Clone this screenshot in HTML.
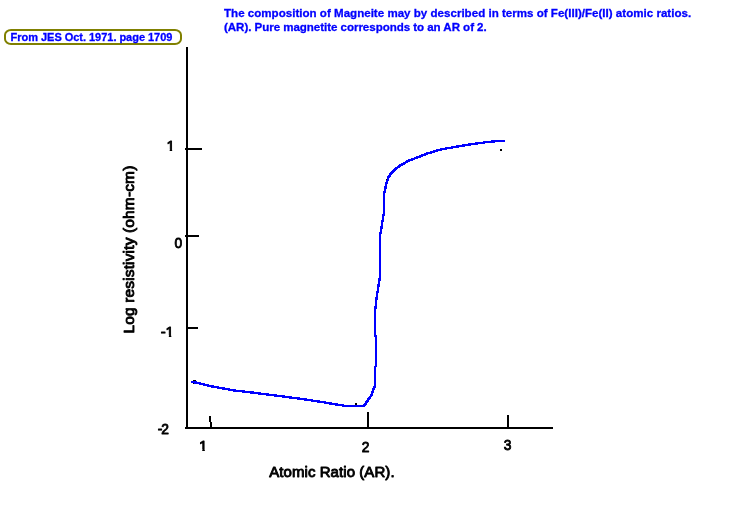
<!DOCTYPE html>
<html>
<head>
<meta charset="utf-8">
<title>Log resistivity vs Atomic Ratio</title>
<style>
html,body{margin:0;padding:0;background:#fff;}
body{width:729px;height:529px;position:relative;overflow:hidden;font-family:"Liberation Sans",sans-serif;}
.t{position:absolute;white-space:nowrap;margin:0;padding:0;line-height:1;}
.hdr{color:#0000ff;font-weight:bold;font-size:11.55px;-webkit-text-stroke:0.3px #0000ff;}
.src{position:absolute;left:4px;top:29px;width:174px;height:12px;border:2px solid #808000;border-radius:7px/6px;background:#fff;}
.src span{position:absolute;left:4.6px;top:0;color:#0000ff;font-weight:bold;font-size:11px;line-height:12px;white-space:nowrap;letter-spacing:-0.03px;-webkit-text-stroke:0.3px #0000ff;}
svg{position:absolute;left:0;top:0;}
svg text{font-family:"Liberation Sans",sans-serif;font-size:15px;fill:#000;stroke:#000;stroke-width:0.9px;stroke-linejoin:round;}
</style>
</head>
<body>
<div class="t hdr" style="left:224px;top:8px;letter-spacing:0.016px;">The composition of Magneite may by described in terms of Fe(III)/Fe(II) atomic ratios.</div>
<div class="t hdr" style="left:224px;top:22px;letter-spacing:-0.04px;">(AR). Pure magnetite corresponds to an AR of 2.</div>
<div class="src"><span>From JES Oct. 1971. page 1709</span></div>

<svg width="729" height="529" viewBox="0 0 729 529">
  <g fill="#000" shape-rendering="crispEdges">
    <rect x="186" y="47" width="2" height="382"/>
    <rect x="185" y="427" width="368" height="2"/>
    <rect x="185" y="148" width="17" height="2"/>
    <rect x="185" y="235" width="14" height="2"/>
    <rect x="187" y="327" width="11" height="2"/>
    <rect x="209" y="416" width="2" height="6"/>
    <rect x="210" y="422" width="2" height="5"/>
    <rect x="367" y="412" width="2" height="15"/>
    <rect x="507" y="415" width="2" height="12"/>
    <rect x="193" y="380" width="3" height="3"/>
    <rect x="193" y="383" width="1" height="1"/>
    <rect x="355" y="403" width="2" height="2"/>
    <rect x="500" y="149" width="2" height="2"/>
  </g>
  <defs><path id="cv" d="M192,382 L195,382.4 L210,386 L233,390.3 L252,392.5 L275.5,395.5 L300,398.7 L322,402 L336,404.4 L346,406 L363.5,406 L365,404.5 L366.6,402 L368,400 L369.5,398 L370.8,396 L372,394 L372.6,392 L373.3,390 L374,388 L375.1,386.3 L375.2,367 L376,366 L376,337 L375.2,335 L375.2,310 L376,303 L376.8,296 L378,289 L379,282 L380,277 L380,235 L380.6,233 L382.5,221 L384,212 L384.2,193.6 L386.3,184 L388.2,177.6 L392,172.3 L399.2,166 L408.8,160.7 L428,153.3 L441.5,149.3 L466.4,145 L487.5,142 L499,141 L504,141"/></defs>
  <g fill="none" stroke="#0000ff" stroke-width="1.25" stroke-linejoin="round" stroke-linecap="square" shape-rendering="crispEdges">
    <use href="#cv" x="-0.5" y="-0.5"/>
    <use href="#cv" x="0.5" y="-0.5"/>
    <use href="#cv" x="-0.5" y="0.5"/>
    <use href="#cv" x="0.5" y="0.5"/>
  </g>
  <rect x="386" y="179" width="1" height="1" fill="#000" shape-rendering="crispEdges"/>
  <clipPath id="one" clipPathUnits="userSpaceOnUse"><path d="M-1,-13 H9 V-2 H5.6 V0 H3.3 V-2 H-1 Z"/></clipPath>
  <clipPath id="mone" clipPathUnits="userSpaceOnUse"><path d="M-1,-13 H13.8 V-2 H10.4 V0 H8.1 V-2 H-1 Z"/></clipPath>
  <g transform="translate(166.5,151)"><g clip-path="url(#one)"><text x="0" y="0">1</text></g></g>
  <text transform="translate(174.61,248) scale(0.92,1)">0</text>
  <g transform="translate(160.8,337)"><g clip-path="url(#mone)"><text x="0" y="0" letter-spacing="-0.2">-1</text></g></g>
  <text transform="translate(157.7,434) scale(0.92,1)" letter-spacing="-1.1">-2</text>
  <g transform="translate(199.1,451)"><g clip-path="url(#one)"><text x="0" y="0">1</text></g></g>
  <text transform="translate(361.71,452) scale(0.92,1)">2</text>
  <text transform="translate(503.81,450) scale(0.92,1)">3</text>
  <text x="269.2" y="477" letter-spacing="0.07">Atomic Ratio (AR).</text>
  <text transform="translate(134.1,333.6) rotate(-90)" style="font-size:15.5px" letter-spacing="0.15">Log resistivity (ohm-cm)</text>
</svg>
</body>
</html>
